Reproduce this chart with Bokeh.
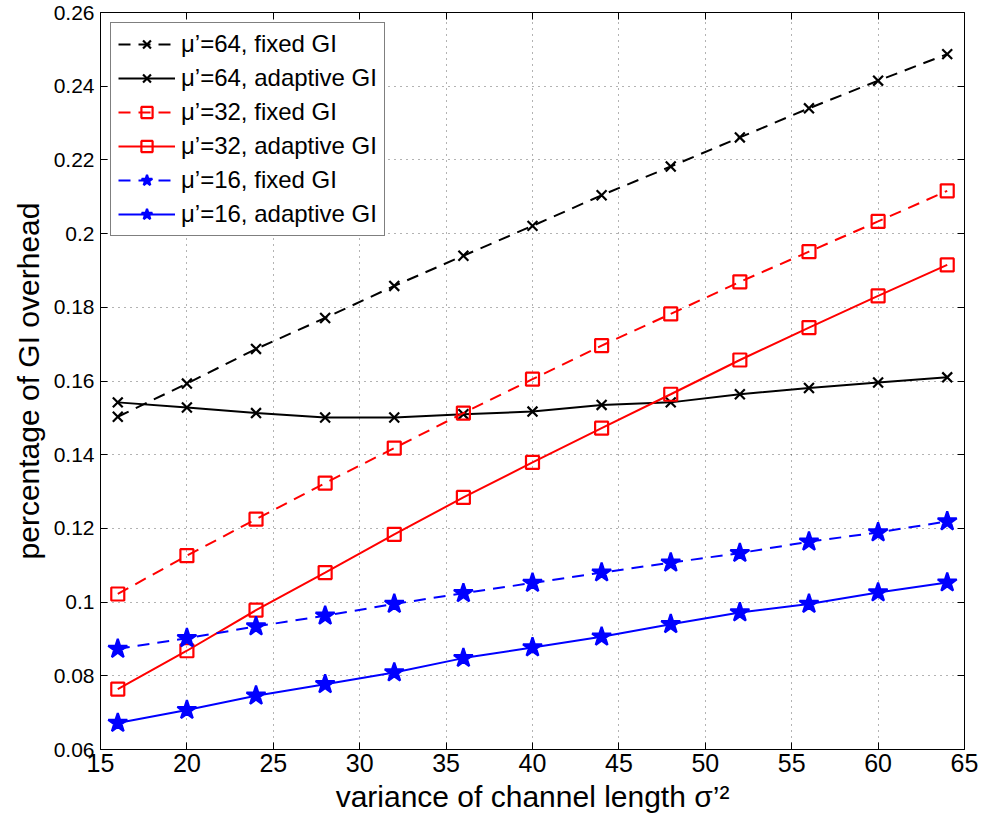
from bokeh.plotting import figure
from bokeh.models import FixedTicker, Legend, LegendItem, LinearAxis, Range1d
from bokeh.embed import file_html
from bokeh.resources import INLINE

# channel-length variance sigma'^2
variance = [16, 20, 24, 28, 32, 36, 40, 44, 48, 52, 56, 60, 64]

# GI overhead for each mean channel length mu'
mu64_fixed = [0.1503, 0.1593, 0.1687, 0.1771, 0.1858, 0.1940, 0.2021, 0.2104,
              0.2182, 0.2261, 0.2340, 0.2415, 0.2487]
mu64_adaptive = [0.1542, 0.1528, 0.1513, 0.1501, 0.1501, 0.1510, 0.1517, 0.1535,
                 0.1542, 0.1564, 0.1581, 0.1596, 0.1610]
mu32_fixed = [0.1022, 0.1126, 0.1225, 0.1323, 0.1418, 0.1513, 0.1605, 0.1696,
              0.1782, 0.1869, 0.1951, 0.2033, 0.2116]
mu32_adaptive = [0.0764, 0.0868, 0.0978, 0.1080, 0.1184, 0.1284, 0.1379, 0.1472,
                 0.1564, 0.1657, 0.1745, 0.1831, 0.1915]
mu16_fixed = [0.0873, 0.0902, 0.0934, 0.0963, 0.0995, 0.1024, 0.1052, 0.1080,
              0.1107, 0.1133, 0.1164, 0.1189, 0.1219]
mu16_adaptive = [0.0672, 0.0707, 0.0746, 0.0777, 0.0809, 0.0848, 0.0877, 0.0906,
                 0.0940, 0.0972, 0.0995, 0.1026, 0.1053]

series_labels = ["μ’=64, fixed GI", "μ’=64, adaptive GI",
                 "μ’=32, fixed GI", "μ’=32, adaptive GI",
                 "μ’=16, fixed GI", "μ’=16, adaptive GI"]

x_ticks = [15, 20, 25, 30, 35, 40, 45, 50, 55, 60, 65]
y_ticks = [0.06, 0.08, 0.10, 0.12, 0.14, 0.16, 0.18, 0.20, 0.22, 0.24, 0.26]
y_tick_labels = ["0.06", "0.08", "0.1", "0.12", "0.14", "0.16", "0.18",
                 "0.2", "0.22", "0.24", "0.26"]

FONT = "Liberation Sans"

p = figure(width=981, height=824, x_range=Range1d(15, 65), y_range=Range1d(0.06, 0.26),
           output_backend="svg", toolbar_location=None,
           min_border_left=100, min_border_right=17, min_border_top=12,
           min_border_bottom=75)
p.background_fill_color = "white"
p.border_fill_color = "white"
p.outline_line_color = "black"
p.outline_line_width = 1

# axes: boxed frame with inward ticks on all four sides
p.xaxis.ticker = FixedTicker(ticks=x_ticks)
p.yaxis.ticker = FixedTicker(ticks=y_ticks)
p.yaxis.major_label_overrides = {t: s for t, s in zip(y_ticks, y_tick_labels)}
p.xaxis.axis_label = "variance of channel length σ’²"
p.yaxis.axis_label = "percentage of GI overhead"
for ax in (p.xaxis[0], p.yaxis[0]):
    ax.axis_line_color = "black"
    ax.major_tick_in = 7
    ax.major_tick_out = 0
    ax.minor_tick_in = 0
    ax.minor_tick_out = 0
    ax.major_tick_line_color = "black"
    ax.major_label_text_font = FONT
    ax.major_label_text_color = "black"
    ax.axis_label_text_font = FONT
    ax.axis_label_text_font_size = "30px"
    ax.axis_label_text_font_style = "normal"
    ax.axis_label_text_color = "black"
p.xaxis.major_label_text_font_size = "25px"
p.yaxis.major_label_text_font_size = "21px"
p.yaxis.major_label_standoff = 6
p.xaxis.major_label_standoff = 4
p.yaxis.axis_label_standoff = 6
p.xaxis.axis_label_standoff = 5

for side, ticks in (("right", y_ticks), ("above", x_ticks)):
    ax = LinearAxis(ticker=FixedTicker(ticks=ticks))
    ax.axis_line_color = None
    ax.major_tick_in = 7
    ax.major_tick_out = 0
    ax.minor_tick_in = 0
    ax.minor_tick_out = 0
    ax.major_label_overrides = {t: "" for t in ticks}
    ax.major_label_text_font_size = "1px"
    ax.major_label_standoff = 0
    p.add_layout(ax, side)

p.grid.grid_line_color = "black"
p.grid.grid_line_alpha = 0.6
p.grid.grid_line_dash = "1 5"
p.grid.grid_line_width = 1
p.xgrid.ticker = FixedTicker(ticks=x_ticks)
p.ygrid.ticker = FixedTicker(ticks=y_ticks)

DASH = "12 8"
items = []

def add_series(ys, color, dash, marker, label, fill=None, size=14):
    ln = p.line(variance, ys, line_color=color, line_width=2, line_dash=dash)
    mk = p.scatter(variance, ys, marker=marker, size=size, line_color=color,
                   line_width=2.2, fill_color=fill, fill_alpha=1 if fill else 0)
    items.append(LegendItem(label=label, renderers=[ln, mk]))

add_series(mu64_fixed, "black", DASH, "x", series_labels[0], size=14)
add_series(mu64_adaptive, "black", "solid", "x", series_labels[1], size=14)
add_series(mu32_fixed, "red", DASH, "square", series_labels[2], size=13)
add_series(mu32_adaptive, "red", "solid", "square", series_labels[3], size=13)
add_series(mu16_fixed, "blue", DASH, "star", series_labels[4], fill="blue", size=20)
add_series(mu16_adaptive, "blue", "solid", "star", series_labels[5], fill="blue", size=20)

legend = Legend(items=items, location="top_left")
legend.margin = 10
legend.padding = 7
legend.spacing = 6
legend.glyph_width = 57
legend.glyph_height = 28
legend.label_height = 28
legend.label_standoff = 6
legend.label_text_font = FONT
legend.label_text_font_size = "24px"
legend.label_text_color = "black"
legend.border_line_color = "black"
legend.border_line_width = 1
legend.background_fill_color = "white"
legend.background_fill_alpha = 1
p.add_layout(legend)

open("out.html", "w").write(file_html(p, INLINE))
